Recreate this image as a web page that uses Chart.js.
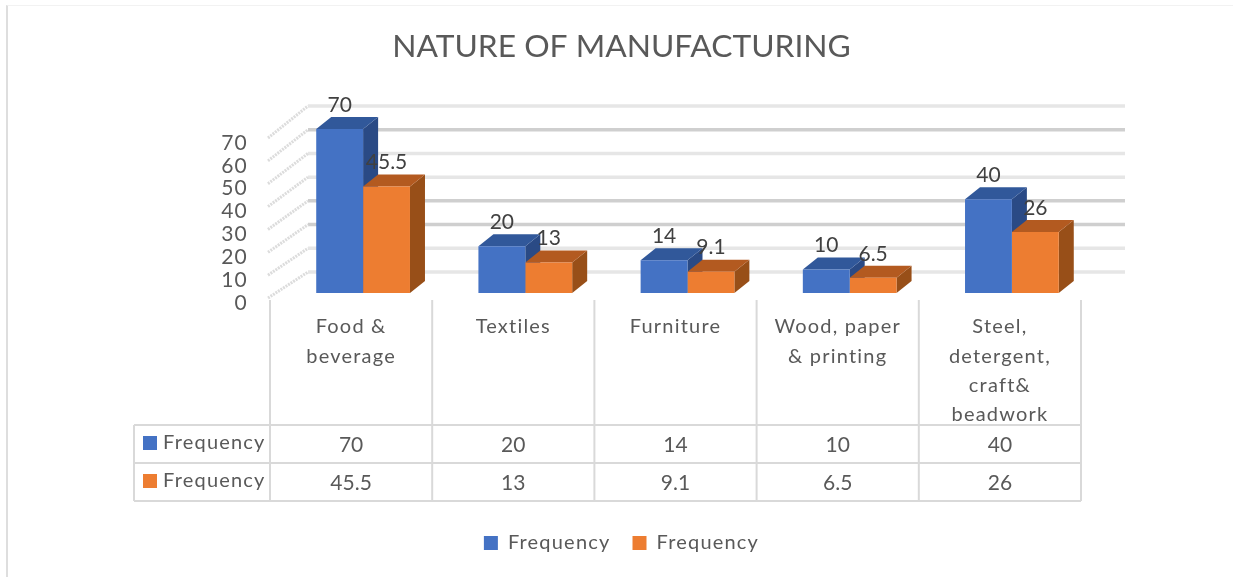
<!DOCTYPE html>
<html>
<head>
<meta charset="utf-8">
<title>Nature of manufacturing</title>
<script src="https://cdn.jsdelivr.net/npm/chart.js@4"></script>
<style>
  html, body { margin: 0; padding: 0; background: #fff; }
  #wrap { position: relative; width: 1233px; height: 577px; overflow: hidden; }
  #frame { position: absolute; left: 6px; top: 5px; width: 1240px; height: 580px; border-left: 2px solid #dedede; border-top: 1px solid #f2f2f2; box-sizing: border-box; }
  canvas { position: relative; }
</style>
</head>
<body>
<div id="wrap">
  <div id="frame"></div>
  <canvas id="chart" width="1233" height="577"></canvas>
</div>
<script>
// Data
const categories = [['Food &', 'beverage'], ['Textiles'], ['Furniture'], ['Wood, paper', '& printing'], ['Steel,', 'detergent,', 'craft&', 'beadwork']];
const seriesBlue = [70, 20, 14, 10, 40];
const seriesOrange = [45.5, 13, 9.1, 6.5, 26];
const seriesNames = ['Frequency', 'Frequency'];
const valueTicks = [0, 10, 20, 30, 40, 50, 60, 70];

// Colours
const TEXT = '#595959';
const LABEL = '#404040';
const BLUE = { front: '#4472c4', top: '#31589a', side: '#2a4a85' };
const ORANGE = { front: '#ed7d31', top: '#b35a20', side: '#984f18' };

// Layout of the pseudo 3D chart
const AREA_TOP = 92, AREA_BOTTOM = 305;
const DEPTH_X = 15, DEPTH_Y = 12;   // depth of the bars
const BAR_SHIFT = 12;               // bars sit a bit right of their category
const WALL_X = 38;                  // back wall compared with the front plane
const BACK_RIGHT = 44;
const SPACING = '1.2px';

// value range of a plane, given where 0 and 70 land in pixels
function planeRange(zeroPx, topPx) {
  const perUnit = (zeroPx - topPx) / 70;
  return { min: (zeroPx - AREA_BOTTOM) / perUnit, max: (zeroPx - AREA_TOP) / perUnit };
}

const ctx = document.getElementById('chart').getContext('2d');

function drawFaces(c, bar, col) {
  const left = bar.x - bar.width / 2, right = bar.x + bar.width / 2;
  c.fillStyle = col.side;
  c.beginPath();
  c.moveTo(right, bar.y);
  c.lineTo(right + DEPTH_X, bar.y - DEPTH_Y);
  c.lineTo(right + DEPTH_X, bar.base - DEPTH_Y);
  c.lineTo(right, bar.base);
  c.closePath();
  c.fill();
  c.fillStyle = col.top;
  c.beginPath();
  c.moveTo(left, bar.y);
  c.lineTo(left + DEPTH_X, bar.y - DEPTH_Y);
  c.lineTo(right + DEPTH_X, bar.y - DEPTH_Y);
  c.lineTo(right, bar.y);
  c.closePath();
  c.fill();
}

const plot3d = {
  id: 'plot3d',
  beforeUpdate(chart) {
    // the canvas resize resets the context, so the spacing is set here
    chart.ctx.letterSpacing = SPACING;
  },
  beforeDraw(chart) {
    chart.ctx.letterSpacing = SPACING;
    // the title is set tighter than the other texts
    if (!chart.titleBlock.$tight) {
      const draw = chart.titleBlock.draw;
      chart.titleBlock.$tight = true;
      chart.titleBlock.draw = function() {
        chart.ctx.letterSpacing = '0px';
        draw.call(this);
        chart.ctx.letterSpacing = SPACING;
      };
    }
  },
  beforeDatasetsDraw(chart) {
    const c = chart.ctx, x = chart.scales.x, back = chart.scales.yBack, front = chart.scales.yLabels;
    const area = chart.chartArea;
    c.save();

    // back wall grid
    valueTicks.forEach(function(v) {
      const py = back.getPixelForValue(v);
      c.strokeStyle = (v === 60 || v === 30 || v === 20) ? '#cfcfcf' : '#e6e6e6';
      c.lineWidth = 3.5;
      c.beginPath();
      c.moveTo(area.left + WALL_X, py);
      c.lineTo(area.right + BACK_RIGHT, py);
      c.stroke();
      // side wall, hatched in the original
      c.strokeStyle = '#dcdcdc';
      c.lineWidth = 3;
      c.setLineDash([2, 1]);
      c.beginPath();
      c.moveTo(area.left - 2, front.getPixelForValue(v) - 5);
      c.lineTo(area.left + WALL_X, py);
      c.stroke();
      c.setLineDash([]);
    });

    // data table
    const catW = x.getPixelForValue(1) - x.getPixelForValue(0);
    const rowTop = 425, rowH = 38, keyLeft = 134;
    const rows = [seriesBlue, seriesOrange];
    c.strokeStyle = '#d9d9d9';
    c.lineWidth = 2;
    categories.concat([[]]).forEach(function(_, i) {
      const px = area.left + i * catW;
      c.beginPath();
      c.moveTo(px, area.bottom - 5);
      c.lineTo(px, rowTop + 2 * rowH);
      c.stroke();
    });
    c.beginPath();
    c.moveTo(keyLeft, rowTop);
    c.lineTo(keyLeft, rowTop + 2 * rowH);
    for (let r = 0; r <= 2; r++) {
      c.moveTo(keyLeft, rowTop + r * rowH);
      c.lineTo(area.right, rowTop + r * rowH);
    }
    c.stroke();
    c.textBaseline = 'middle';
    rows.forEach(function(vals, r) {
      const cy = rowTop + r * rowH + rowH / 2;
      c.fillStyle = r === 0 ? BLUE.front : ORANGE.front;
      c.fillRect(keyLeft + 9, cy - 8, 14, 14);
      c.fillStyle = TEXT;
      c.font = '20px Lato';
      c.letterSpacing = SPACING;
      c.textAlign = 'left';
      c.fillText(seriesNames[r], keyLeft + 29, cy - 1);
      c.font = '21px Lato';
      c.letterSpacing = '0px';
      c.textAlign = 'center';
      vals.forEach(function(v, i) {
        c.fillText(String(v), x.getPixelForValue(i), cy + 1);
      });
    });
    c.letterSpacing = SPACING;

    // shifted bars: faces first, then the library draws the fronts on top
    c.translate(BAR_SHIFT, 0);
    [BLUE, ORANGE].forEach(function(col, d) {
      chart.getDatasetMeta(d).data.forEach(function(bar) { drawFaces(c, bar, col); });
    });
  },
  afterDatasetsDraw(chart) {
    const c = chart.ctx;
    c.font = '21px Lato';
    c.letterSpacing = '0px';
    c.fillStyle = LABEL;
    c.textAlign = 'center';
    c.textBaseline = 'middle';
    chart.data.datasets.forEach(function(ds, d) {
      chart.getDatasetMeta(d).data.forEach(function(bar, i) {
        c.fillText(String(ds.data[i]), bar.x, bar.y - 24);
      });
    });
    c.restore();
    c.letterSpacing = SPACING;
  }
};

new Chart(ctx, {
  type: 'bar',
  data: {
    labels: categories,
    datasets: [
      { label: seriesNames[0], data: seriesBlue, backgroundColor: BLUE.front, yAxisID: 'y' },
      { label: seriesNames[1], data: seriesOrange, backgroundColor: ORANGE.front, yAxisID: 'y' }
    ]
  },
  options: {
    responsive: false,
    animation: false,
    layout: { padding: { left: 10, right: 0, bottom: 14 } },
    datasets: { bar: { barPercentage: 1, categoryPercentage: 0.578, clip: false } },
    plugins: {
      tooltip: { enabled: false },
      title: {
        display: true,
        text: 'NATURE OF MANUFACTURING',
        color: TEXT,
        font: { family: 'Lato', size: 31.75, weight: 'normal', lineHeight: '40px' },
        padding: { top: 27, bottom: 25 }
      },
      legend: {
        position: 'bottom',
        labels: {
          color: TEXT,
          boxWidth: 14,
          boxHeight: 14,
          padding: 22,
          font: { family: 'Lato', size: 20 }
        }
      }
    },
    scales: {
      x: {
        grid: { display: false, drawTicks: false },
        border: { display: false },
        afterFit(scale) { scale.height = 577 - AREA_BOTTOM - 14 - 52; },
        ticks: {
          color: TEXT,
          padding: 7,
          autoSkip: false,
          maxRotation: 0,
          font: { family: 'Lato', size: 20, lineHeight: 1.47 }
        }
      },
      // bars, front plane
      y: Object.assign({ display: false }, planeRange(293, 129)),
      // labels of the axis
      yLabels: Object.assign({
        position: 'left',
        grid: { display: false, drawTicks: false },
        border: { display: false },
        afterFit(scale) { scale.width = 260; },
        afterBuildTicks(scale) { scale.ticks = valueTicks.map(function(v) { return { value: v }; }); },
        ticks: { color: TEXT, padding: 22, font: { family: 'Lato', size: 21 } }
      }, planeRange(303, 143)),
      // back wall, its place on the right keeps the plot as wide as in the original
      yBack: Object.assign({
        position: 'right',
        grid: { display: false, drawTicks: false },
        border: { display: false },
        ticks: { display: false },
        afterFit(scale) { scale.width = 152; }
      }, planeRange(272, 106))
    }
  },
  plugins: [plot3d]
});
</script>
</body>
</html>
